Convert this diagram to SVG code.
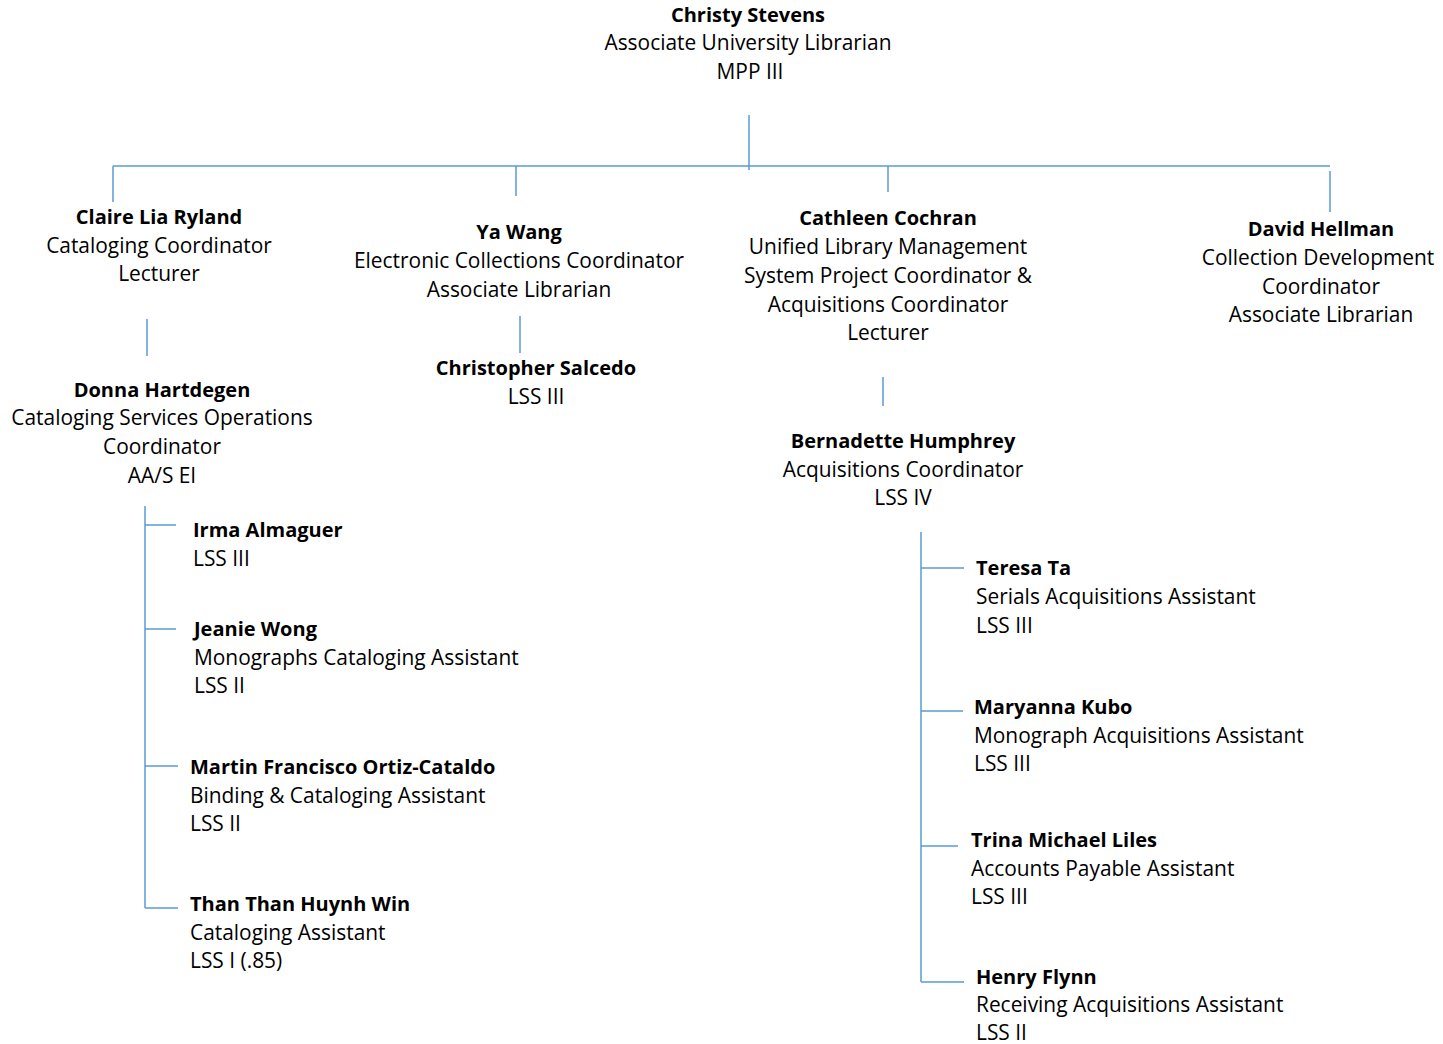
<svg xmlns="http://www.w3.org/2000/svg" width="1443" height="1044" viewBox="0 0 1443 1044">
<style>
text{font-family:"Open Sans","Noto Sans","Liberation Sans",sans-serif;font-size:20.9px;fill:#000}
.c{text-anchor:middle}
.b{font-weight:bold;font-size:20px}
.ln{stroke:#5B9BD5;stroke-width:1.5;fill:none}
</style>
<rect width="1443" height="1044" fill="#fff"/>
<g id="connectors" class="ln">
<path d="M749 115V170M113 166H1330M113 166V202M516 166V196M888 166V192M1330 171V212"/>
<path d="M147 319V356M520 316V353M883 377V406"/>
<path d="M145 506V908M145 525H176M145 629H176M145 766H178M145 908H178"/>
<path d="M921 532V982M921 568H964M921 711H963M921 846H958M921 982H964"/>
</g>
<g id="christy" class="c"><text x="748" y="22" class="b">Christy Stevens</text><text x="748" y="50">Associate University Librarian</text><text x="750" y="79">MPP III</text></g>
<g id="claire" class="c"><text x="159" y="224" class="b">Claire Lia Ryland</text><text x="159" y="253">Cataloging Coordinator</text><text x="159" y="281">Lecturer</text></g>
<g id="yawang" class="c"><text x="519" y="239" class="b">Ya Wang</text><text x="519" y="268">Electronic Collections Coordinator</text><text x="519" y="297">Associate Librarian</text></g>
<g id="cathleen" class="c"><text x="888" y="225" class="b">Cathleen Cochran</text><text x="888" y="254">Unified Library Management</text><text x="888" y="283">System Project Coordinator &amp;</text><text x="888" y="312">Acquisitions Coordinator</text><text x="888" y="340">Lecturer</text></g>
<g id="david" class="c"><text x="1321" y="236" class="b">David Hellman</text><text x="1318" y="265">Collection Development</text><text x="1321" y="294">Coordinator</text><text x="1321" y="322">Associate Librarian</text></g>
<g id="donna" class="c"><text x="162" y="397" class="b">Donna Hartdegen</text><text x="162" y="425">Cataloging Services Operations</text><text x="162" y="454">Coordinator</text><text x="162" y="483">AA/S EI</text></g>
<g id="christopher" class="c"><text x="536" y="375" class="b">Christopher Salcedo</text><text x="536" y="404">LSS III</text></g>
<g id="bernadette" class="c"><text x="903" y="448" class="b">Bernadette Humphrey</text><text x="903" y="477">Acquisitions Coordinator</text><text x="903" y="505">LSS IV</text></g>
<g id="irma"><text x="193" y="537" class="b">Irma Almaguer</text><text x="193" y="566">LSS III</text></g>
<g id="jeanie"><text x="194" y="636" class="b">Jeanie Wong</text><text x="194" y="665">Monographs Cataloging Assistant</text><text x="194" y="693">LSS II</text></g>
<g id="martin"><text x="190" y="774" class="b">Martin Francisco Ortiz-Cataldo</text><text x="190" y="803">Binding &amp; Cataloging Assistant</text><text x="190" y="831">LSS II</text></g>
<g id="than"><text x="190" y="911" class="b">Than Than Huynh Win</text><text x="190" y="940">Cataloging Assistant</text><text x="190" y="968">LSS I (.85)</text></g>
<g id="teresa"><text x="976" y="575" class="b">Teresa Ta</text><text x="976" y="604">Serials Acquisitions Assistant</text><text x="976" y="633">LSS III</text></g>
<g id="maryanna"><text x="974" y="714" class="b">Maryanna Kubo</text><text x="974" y="743">Monograph Acquisitions Assistant</text><text x="974" y="771">LSS III</text></g>
<g id="trina"><text x="971" y="847" class="b">Trina Michael Liles</text><text x="971" y="876">Accounts Payable Assistant</text><text x="971" y="904">LSS III</text></g>
<g id="henry"><text x="976" y="984" class="b">Henry Flynn</text><text x="976" y="1012">Receiving Acquisitions Assistant</text><text x="976" y="1040">LSS II</text></g>
</svg>
